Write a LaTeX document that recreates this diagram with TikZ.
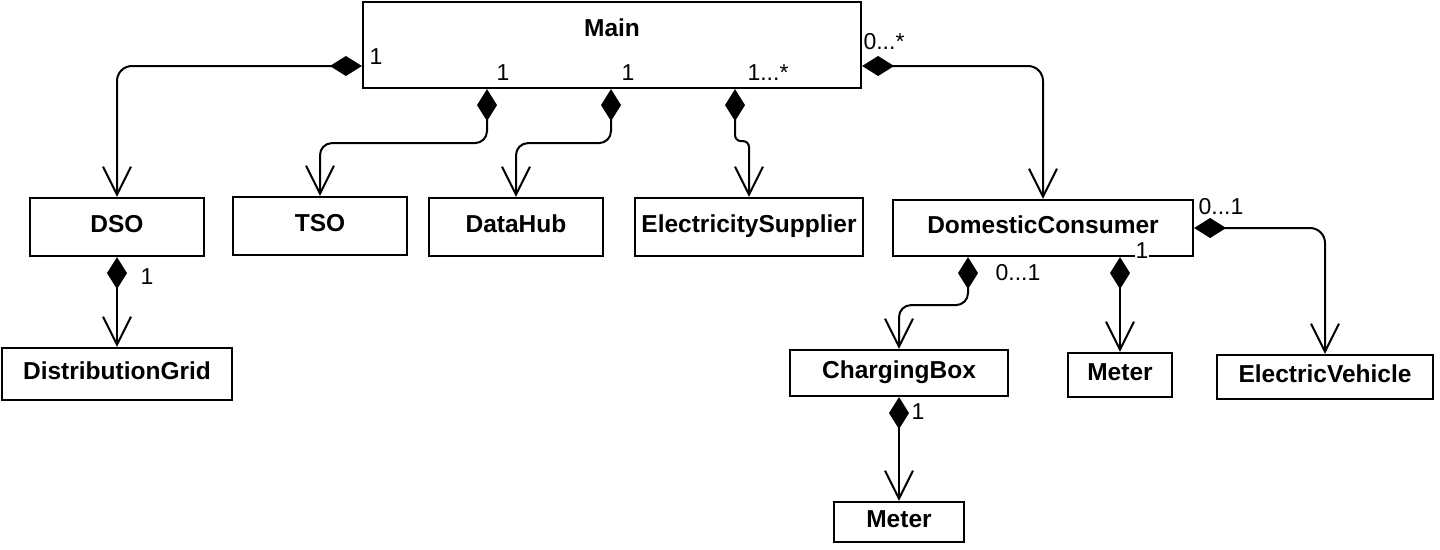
\documentclass[tikz,border=0pt]{standalone}
\usepackage{fontspec}
\setmainfont{Liberation Sans}
\usetikzlibrary{arrows.meta}
\begin{document}
\begin{tikzpicture}[x=1pt,y=-1pt,
  box/.style={draw, line width=2.2pt, inner sep=0pt, font=\fontsize{24.5}{28}\selectfont\bfseries, text height=17.5pt, text depth=6pt},
  comp/.style={line width=2pt, arrows={Diamond[length=32pt,width=20pt]-Straight Barb[length=28pt,width=28pt]}},
  mult/.style={font=\fontsize{23}{27}\selectfont, inner sep=1pt}]
\useasboundingbox[fill=white] (0,0) rectangle (1440,549);

% classes
\node[box, minimum width=498pt, minimum height=86pt, text height=34pt, text depth=52pt] (main) at (612,45) {Main};
\node[box, minimum width=174pt, minimum height=58pt] (dso) at (117,227) {DSO};
\node[box, minimum width=174pt, minimum height=58pt] (tso) at (320,226) {TSO};
\node[box, minimum width=174pt, minimum height=58pt] (hub) at (516,227) {DataHub};
\node[box, minimum width=228pt, minimum height=58pt] (sup) at (749,227) {ElectricitySupplier};
\node[box, minimum width=300pt, minimum height=56pt] (dc) at (1043,228) {DomesticConsumer};
\node[box, minimum width=230pt, minimum height=52pt] (grid) at (117,374) {DistributionGrid};
\node[box, minimum width=218pt, minimum height=46pt] (cb) at (899,373) {ChargingBox};
\node[box, minimum width=104pt, minimum height=44pt] (m1) at (1120,375) {Meter};
\node[box, minimum width=216pt, minimum height=44pt] (ev) at (1325,377) {ElectricVehicle};
\node[box, minimum width=130pt, minimum height=40pt] (m2) at (899,522) {Meter};

% compositions
\draw[comp, rounded corners=15pt] ([yshift=-21pt]main.west) -| (dso.north);
\draw[comp, rounded corners=12pt] ([xshift=-125pt]main.south) -- ++(0,54) -| (tso.north);
\draw[comp, rounded corners=12pt] ([xshift=-1pt]main.south) -- ++(0,54) -| (hub.north);
\draw[comp, rounded corners=6pt] ([xshift=123pt]main.south) -- ++(0,52) -| (sup.north);
\draw[comp, rounded corners=15pt] ([yshift=-21pt]main.east) -| (dc.north);
\draw[comp, rounded corners=15pt] (dc.east) -| (ev.north);
\draw[comp, rounded corners=12pt] ([xshift=-75pt]dc.south) -- ++(0,48) -| (cb.north);
\draw[comp] (m1.north |- dc.south) -- (m1.north);
\draw[comp] (dso.south) -- (grid.north);
\draw[comp] (cb.south) -- (m2.north);

% multiplicities
\node[mult] (l1) at (376,57) {1};
\node[mult] (l2) at (503,73) {1};
\node[mult] (l3) at (628,73) {1};
\node[mult] (l4) at (768,73) {1...*};
\node[mult] (l5) at (884,42) {0...*};
\node[mult] (l6) at (1221,207) {0...1};
\node[mult] (l7) at (1018,273) {0...1};
\node[mult, fill=white, inner sep=0.5pt] (l8) at (1142,251) {1};
\node[mult] (l9) at (147,277) {1};
\node[mult] (l10) at (918,412) {1};
\end{tikzpicture}
\end{document}
